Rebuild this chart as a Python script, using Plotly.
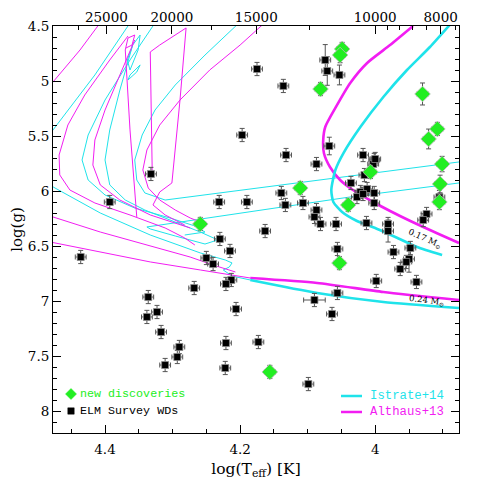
import math
import plotly.graph_objects as go

# ---------------- data ----------------
# ELM Survey WDs (black squares)
elm_logt = [4.175, 4.136, 4.074, 4.071, 4.053, 4.197, 4.068, 4.132, 4.087, 4.018,
            4.0015, 4.003, 4.000, 4.016, 4.036, 4.139, 4.133, 4.107, 4.022, 4.012,
            4.0015, 4.027, 4.018, 4.0015, 4.087, 4.090, 4.081, 4.058, 4.013, 3.981,
            3.981, 3.924, 3.929, 3.905, 4.163, 4.056, 3.973, 3.948, 3.950, 3.954,
            3.963, 3.939, 3.9985, 4.056, 4.090, 4.064, 4.173, 4.099, 4.230, 4.215,
            4.436, 4.250, 4.240, 4.213, 4.221, 4.268, 4.336, 4.206, 4.323, 4.338,
            4.317, 4.221, 4.290, 4.293, 4.311, 4.222, 4.332, 4.393, 4.231, 4.190]
elm_logg = [4.891, 5.045, 4.809, 4.909, 4.945, 5.491, 5.591, 5.673, 5.755, 5.673,
            5.718, 5.755, 5.709, 5.855, 5.927, 6.018, 6.127, 6.109, 6.009, 5.982,
            6.018, 6.055, 6.027, 6.109, 6.173, 6.236, 6.300, 6.300, 6.291, 6.300,
            6.364, 6.209, 6.264, 6.055, 6.364, 6.527, 6.555, 6.518, 6.618, 6.645,
            6.709, 6.827, 6.818, 6.927, 6.991, 7.118, 7.373, 7.755, 6.436, 6.545,
            6.600, 6.609, 6.664, 6.809, 6.845, 6.882, 6.964, 7.073, 7.100, 7.145,
            7.282, 7.382, 7.418, 7.509, 7.582, 7.609, 5.845, 6.100, 6.100, 6.100]
elm_logt_err = [0.008] * 44 + [0.016] + [0.008] * 25
elm_logg_err = [0.06, 0.06, 0.14, 0.13, 0.09, 0.06, 0.08, 0.06, 0.06, 0.06,
                0.06, 0.06, 0.06, 0.06, 0.06, 0.06, 0.06, 0.06, 0.06, 0.06,
                0.06, 0.06, 0.06, 0.06, 0.06, 0.06, 0.06, 0.06, 0.06, 0.06,
                0.10, 0.06, 0.06, 0.06, 0.06, 0.06, 0.06, 0.06, 0.12, 0.06,
                0.06, 0.06, 0.06, 0.06, 0.06, 0.06, 0.06, 0.06, 0.06, 0.06,
                0.06, 0.06, 0.06, 0.06, 0.06, 0.06, 0.06, 0.06, 0.06, 0.06,
                0.06, 0.06, 0.06, 0.06, 0.06, 0.06, 0.06, 0.06, 0.06, 0.06]

# New discoveries (green diamonds)
new_logt = [4.049, 4.052, 4.081, 3.930, 3.908, 3.921, 4.007, 3.901, 3.904, 3.905,
            4.111, 4.040, 4.259, 4.053, 4.156]
new_logg = [4.709, 4.764, 5.073, 5.118, 5.436, 5.527, 5.827, 5.755, 5.936, 6.100,
            5.973, 6.127, 6.300, 6.655, 7.645]
new_logt_err = [0.008] * 15
new_logg_err = [0.06, 0.07, 0.06, 0.10, 0.06, 0.09, 0.06, 0.07, 0.08, 0.07,
                0.06, 0.06, 0.06, 0.06, 0.06]

# Althaus+13 tracks (magenta)
alt017_logt = [3.944, 3.978, 4.012, 4.037, 4.059, 4.074, 4.077, 4.076, 4.067, 4.052,
               4.033, 4.003, 3.978, 3.948, 3.919, 3.896, 3.876]
alt017_logg = [4.500, 4.673, 4.836, 5.018, 5.245, 5.418, 5.536, 5.655, 5.782, 5.900,
               5.991, 6.100, 6.182, 6.273, 6.355, 6.418, 6.473]
alt024_logt = [4.185, 4.086, 3.988, 3.876]
alt024_logg = [6.791, 6.836, 6.918, 6.991]
alt_thin = {
    "a": ([4.404, 4.437, 4.477, 4.489], [4.445, 4.718, 5.009, 5.100]),
    "b": ([4.489, 4.477, 4.407, 4.333, 4.274, 4.240, 4.207],
          [6.209, 6.236, 6.373, 6.500, 6.600, 6.673, 6.736]),
    "c": ([4.489, 4.407, 4.333, 4.259, 4.185],
          [6.454, 6.554, 6.645, 6.718, 6.791]),
    "d": ([4.366, 4.393, 4.430, 4.455, 4.468, 4.467, 4.452, 4.415, 4.363, 4.311, 4.282, 4.267],
          [4.591, 4.809, 5.127, 5.400, 5.673, 5.854, 5.991, 6.109, 6.218, 6.336, 6.427, 6.491]),
    "e": ([4.356, 4.378, 4.400, 4.415, 4.418, 4.407, 4.378, 4.333, 4.289, 4.274],
          [4.627, 4.945, 5.264, 5.536, 5.764, 5.945, 6.082, 6.218, 6.309, 6.336]),
    "f": ([4.353, 4.363, 4.370, 4.366, 4.356, 4.360, 4.369],
          [6.236, 5.445, 4.718, 4.609, 4.582, 4.673, 4.700]),
    "g": ([4.330, 4.333, 4.319, 4.280, 4.289, 4.301, 4.319, 4.329, 4.311, 4.282],
          [5.873, 4.736, 4.673, 4.518, 5.173, 5.927, 6.009, 6.127, 6.218, 6.309]),
    "h": ([4.159, 4.200, 4.245, 4.289, 4.319, 4.338, 4.344, 4.336, 4.319, 4.296, 4.274, 4.259],
          [4.445, 4.673, 4.900, 5.173, 5.400, 5.627, 5.809, 5.973, 6.082, 6.173, 6.245, 6.282]),
}

# Istrate+14 tracks (cyan)
ist017_logt = [3.886, 3.919, 3.953, 3.988, 4.022, 4.047, 4.059, 4.065, 4.062, 4.049,
               4.027, 3.997, 3.967, 3.938, 3.901]
ist017_logg = [4.464, 4.691, 4.900, 5.145, 5.418, 5.655, 5.809, 5.991, 6.100, 6.191,
               6.273, 6.345, 6.427, 6.509, 6.582]
ist024_logt = [4.185, 4.086, 3.988, 3.876]
ist024_logg = [6.809, 6.927, 7.009, 7.064]
ist_thin = {
    "a": ([4.360, 4.415, 4.477, 4.489], [4.445, 4.945, 5.445, 5.545]),
    "b": ([4.489, 4.474, 4.407, 4.333, 4.259, 4.222, 4.212, 4.216, 4.225, 4.212, 4.185],
          [5.918, 5.973, 6.200, 6.400, 6.563, 6.627, 6.654, 6.691, 6.718, 6.773, 6.809]),
    "c": ([4.323, 4.329, 4.363, 4.400, 4.425, 4.434, 4.425, 4.400, 4.356, 4.304, 4.267, 4.252, 4.282],
          [4.445, 4.500, 4.809, 5.173, 5.491, 5.718, 5.900, 6.036, 6.155, 6.245, 6.318, 6.373, 6.400]),
    "d": ([4.197, 4.252, 4.296, 4.326, 4.345, 4.356, 4.353, 4.341, 4.311, 4.185, 4.037, 3.876],
          [4.445, 4.764, 5.036, 5.264, 5.491, 5.718, 5.900, 6.018, 6.082, 5.982, 5.863, 5.736]),
    "e": ([4.359, 4.378, 4.393, 4.400, 4.393, 4.370, 4.341, 4.304, 4.259, 4.233, 4.252, 4.296,
           4.333, 4.338, 4.185, 4.037, 3.876],
          [4.673, 5.082, 5.445, 5.718, 5.945, 6.082, 6.173, 6.264, 6.373, 6.445, 6.482, 6.409,
           6.345, 6.327, 6.191, 6.054, 5.927]),
    "f": ([4.359, 4.348, 4.351, 4.363, 4.367, 4.359], [4.673, 4.582, 4.718, 4.900, 4.809, 4.673]),
    "g": ([4.363, 4.348, 4.353, 4.366, 4.363], [4.945, 4.854, 4.918, 4.991, 4.945]),
}

teff_major = [25000, 20000, 15000, 10000, 8000]
teff_minor = [27500, 22500, 17500, 12500, 9600, 9200, 8800, 8400, 7600]
x_ticks = [4.4, 4.2, 4.0]
x_labels = ["4.4", "4.2", "4"]

# ---------------- styles ----------------
CYAN = "#1FE3EA"
MAG = "#F21DF2"
GREEN = "#22EE22"
XR = [4.477, 3.876]
YR = [8.2, 4.5]
SERIF = "DejaVu Serif"
MONO = "Liberation Mono"

# page body has an 8px margin: figure is 477x477 so it fits the 485 window
W = H = 477
ML, MR, MT, MB = 45, 26, 18, 52
PW, PH = W - ML - MR, H - MT - MB

fig = go.Figure()

for k, (xs, ys) in ist_thin.items():
    fig.add_trace(go.Scatter(x=xs, y=ys, mode="lines", line=dict(color=CYAN, width=1),
                             hoverinfo="skip", showlegend=False))
for k, (xs, ys) in alt_thin.items():
    fig.add_trace(go.Scatter(x=xs, y=ys, mode="lines", line=dict(color=MAG, width=1),
                             hoverinfo="skip", showlegend=False))

for xs, ys, c in [(alt017_logt, alt017_logg, MAG), (ist017_logt, ist017_logg, CYAN),
                  (alt024_logt, alt024_logg, MAG), (ist024_logt, ist024_logg, CYAN)]:
    fig.add_trace(go.Scatter(x=xs, y=ys, mode="lines",
                             line=dict(color=c, width=2.6, shape="spline", smoothing=0.6),
                             hoverinfo="skip", showlegend=False))

fig.add_trace(go.Scatter(
    x=elm_logt, y=elm_logg, mode="markers",
    marker=dict(symbol="square", size=7, color="black", line=dict(color="#8a8a8a", width=0.8)),
    error_x=dict(type="data", array=elm_logt_err, color="#555", thickness=1, width=2.5),
    error_y=dict(type="data", array=elm_logg_err, color="#555", thickness=1, width=2.5),
    showlegend=False, hoverinfo="skip"))

fig.add_trace(go.Scatter(
    x=new_logt, y=new_logg, mode="markers",
    marker=dict(symbol="diamond", size=12, color=GREEN, line=dict(color="#bbbbbb", width=0.8)),
    error_x=dict(type="data", array=new_logt_err, color="#555", thickness=1, width=2.5),
    error_y=dict(type="data", array=new_logg_err, color="#555", thickness=1, width=2.5),
    showlegend=False, hoverinfo="skip"))

# invisible trace on top axis
fig.add_trace(go.Scatter(x=new_logt, y=new_logg, xaxis="x2", mode="markers",
                         marker=dict(opacity=0), showlegend=False, hoverinfo="skip"))

# track labels
fig.add_annotation(x=3.927, y=6.436, text="0.17 M<sub>⊙</sub>", showarrow=False,
                   textangle=24, font=dict(family=SERIF, size=8.5, color="black"))
fig.add_annotation(x=3.924, y=6.995, text="0.24 M<sub>⊙</sub>", showarrow=False,
                   textangle=7, font=dict(family=SERIF, size=8.5, color="black"))

# legends (paper coords; page pixel -> paper)
def px2paper(px, py):
    return (px - 8 - ML) / PW, (H - MB + 8 - py) / PH

dx, dy = 1.0 / PW, 1.0 / PH
# diamond symbol
cx, cy = px2paper(71, 394)
r = 5.5
fig.add_shape(type="path", xref="paper", yref="paper",
              path=f"M {cx - r*dx} {cy} L {cx} {cy + r*dy} L {cx + r*dx} {cy} L {cx} {cy - r*dy} Z",
              fillcolor=GREEN, line=dict(color=GREEN, width=0.5))
tx, _ = px2paper(78, 394)
fig.add_annotation(x=tx, y=cy, xref="paper", yref="paper", text="new discoveries", showarrow=False,
                   font=dict(family=MONO, size=11.7, color=GREEN), xanchor="left", yanchor="middle")
# square symbol
cx, cy = px2paper(71, 411)
s = 3.2
fig.add_shape(type="rect", xref="paper", yref="paper",
              x0=cx - s*dx, x1=cx + s*dx, y0=cy - s*dy, y1=cy + s*dy,
              fillcolor="black", line=dict(color="black", width=0.5))
fig.add_annotation(x=tx, y=cy, xref="paper", yref="paper", text="ELM Survey WDs", showarrow=False,
                   font=dict(family=MONO, size=11.7, color="black"), xanchor="left", yanchor="middle")

for py, col, name in [(396, CYAN, "Istrate+14"), (412, MAG, "Althaus+13")]:
    x0, yy = px2paper(341, py)
    x1, _ = px2paper(362, py)
    fig.add_shape(type="line", xref="paper", yref="paper", x0=x0, x1=x1, y0=yy, y1=yy,
                  line=dict(color=col, width=2.5))
    tx2, _ = px2paper(368, py)
    fig.add_annotation(x=tx2, y=yy, xref="paper", yref="paper", text=name, showarrow=False,
                       font=dict(family=MONO, size=12.3, color=col), xanchor="left", yanchor="middle")

fig.update_layout(
    width=W, height=H,
    margin=dict(l=ML, r=MR, t=MT, b=MB, autoexpand=False),
    paper_bgcolor="white", plot_bgcolor="white",
    font=dict(family=SERIF, size=13.5, color="black"),
    xaxis=dict(range=XR, tickmode="array", tickvals=x_ticks, ticktext=x_labels,
               ticks="inside", ticklen=8, tickwidth=1, tickcolor="black", ticklabelstandoff=4,
               minor=dict(tickmode="linear", tick0=4.0, dtick=0.05, ticks="inside", ticklen=4, tickcolor="black"),
               showline=True, linecolor="black", linewidth=1, mirror=True,
               showgrid=False, zeroline=False, automargin=False,
               title=dict(text="log(T<sub>eff</sub>) [K]", font=dict(family=SERIF, size=15.5), standoff=6),
               tickfont=dict(family=SERIF, size=13.5)),
    xaxis2=dict(range=XR, overlaying="x", side="top", anchor="y", tickmode="array",
                tickvals=[math.log10(t) for t in teff_major], ticktext=[str(t) for t in teff_major],
                ticks="inside", ticklen=8, tickcolor="black", automargin=False,
                minor=dict(tickmode="array", tickvals=[math.log10(t) for t in teff_minor],
                           ticks="inside", ticklen=4, tickcolor="black"),
                showline=False, showgrid=False, zeroline=False,
                tickfont=dict(family=SERIF, size=13.5)),
    yaxis=dict(range=YR, tick0=4.5, dtick=0.5, ticks="inside", ticklen=8, tickcolor="black",
               minor=dict(dtick=0.1, ticks="inside", ticklen=4, tickcolor="black"),
               showline=True, linecolor="black", linewidth=1, mirror="ticks",
               showgrid=False, zeroline=False, automargin=False,
               title=dict(text="log(g)", font=dict(family=SERIF, size=15), standoff=4),
               tickfont=dict(family=SERIF, size=13.5)),
)

fig.write_html("out.html")
